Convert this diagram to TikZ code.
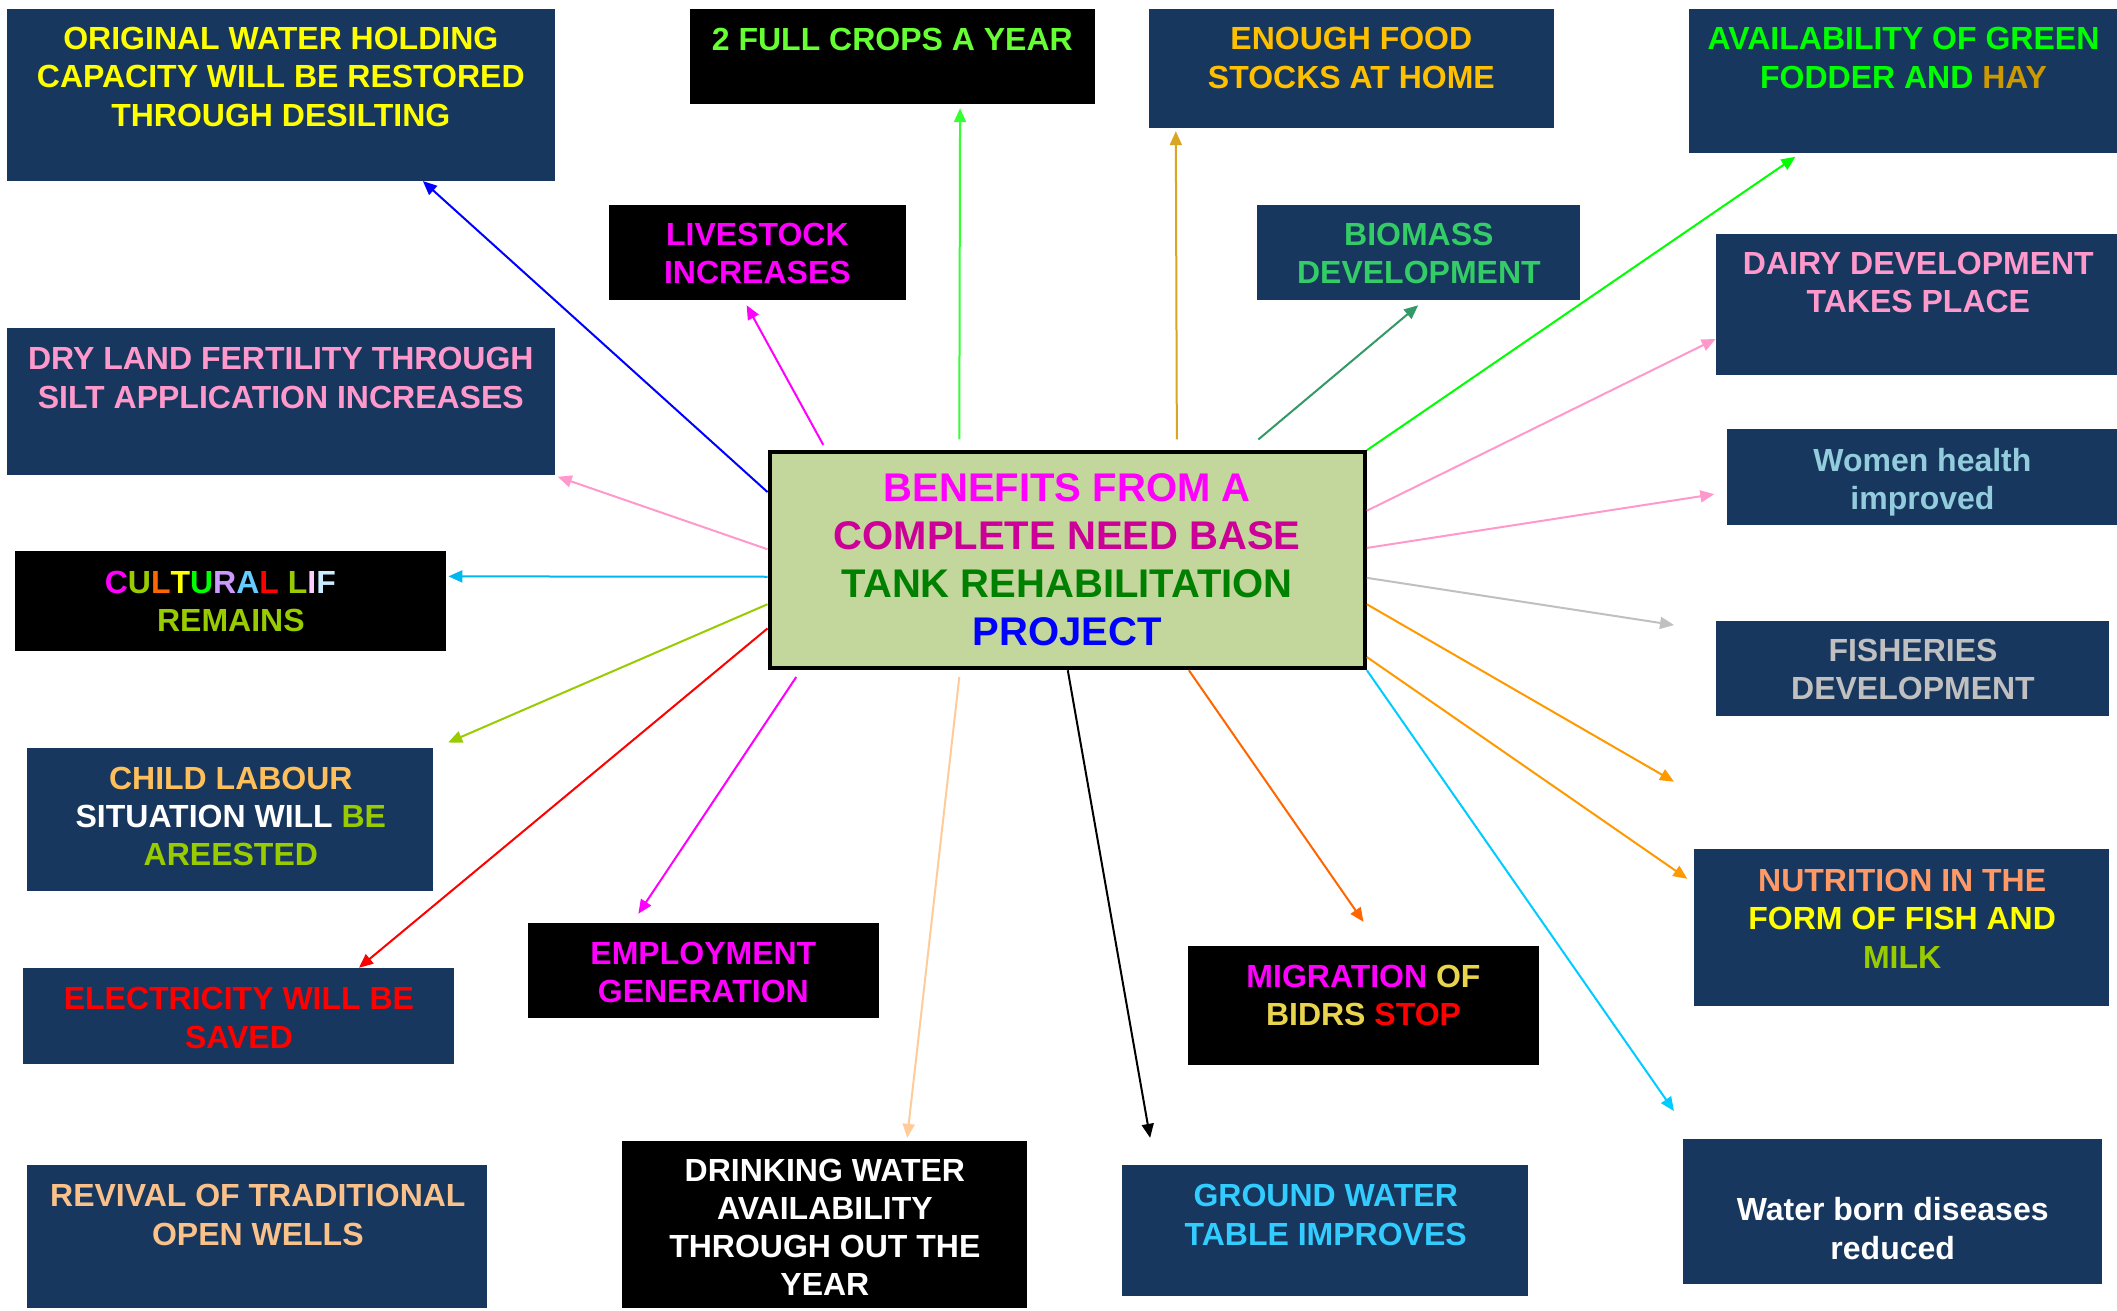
\documentclass[tikz,border=0pt]{standalone}
\usepackage{fontspec}
\setmainfont{Liberation Sans}
\usetikzlibrary{arrows.meta,calc,fit}
\definecolor{navy}{HTML}{17375E}
\definecolor{centfill}{HTML}{C3D69B}
\definecolor{mymag}{HTML}{FF00FF}
\definecolor{mygreen}{HTML}{00FF00}
\definecolor{myyellow}{HTML}{FFFF00}
\definecolor{myred}{HTML}{FF0000}
\definecolor{myblue}{HTML}{0000FF}
\definecolor{mywhite}{HTML}{FFFFFF}
\definecolor{myblack}{HTML}{000000}
\definecolor{cropgreen}{HTML}{66FF33}
\definecolor{foodgold}{HTML}{FFC000}
\definecolor{haygold}{HTML}{CC9900}
\definecolor{biogreen}{HTML}{33CC66}
\definecolor{pinkx}{HTML}{FF99CC}
\definecolor{womenblue}{HTML}{93CDDD}
\definecolor{silverx}{HTML}{C0C0C0}
\definecolor{childorange}{HTML}{FFC05C}
\definecolor{ygreen}{HTML}{99CC00}
\definecolor{salmonx}{HTML}{FF9966}
\definecolor{khakiy}{HTML}{E8D44D}
\definecolor{revorange}{HTML}{FAC28A}
\definecolor{groundblue}{HTML}{33CCFF}
\definecolor{darkmag}{HTML}{CC0099}
\definecolor{darkgreenx}{HTML}{008000}
\definecolor{lavx}{HTML}{CC99FF}
\definecolor{lblue}{HTML}{66CCFF}
\definecolor{orangex}{HTML}{FF6600}
\definecolor{pinklight}{HTML}{FFCCFF}
\definecolor{paleblue}{HTML}{CCECFF}
\definecolor{arrgreen}{HTML}{33FF33}
\definecolor{arrgold}{HTML}{DAA520}
\definecolor{arrteal}{HTML}{339966}
\definecolor{arrorange}{HTML}{FF9900}
\definecolor{arrcyan}{HTML}{00CCFF}
\definecolor{arrpeach}{HTML}{FFCC99}
\definecolor{arrsky}{HTML}{00B8F0}
\begin{document}
\begin{tikzpicture}[x=1.35pt,y=-1.35pt,
  navybox/.style={fill=navy, inner sep=0pt, draw=none},
  blackbox/.style={fill=myblack, inner sep=0pt, draw=none},
  txt/.style={font=\fontsize{32}{38.2}\selectfont\bfseries, align=center, inner sep=0pt},
  ctxt/.style={font=\fontsize{40}{48.2}\selectfont\bfseries, align=center, inner sep=0pt},
  arr/.style={line width=2pt, -{Triangle[length=14pt,width=12pt]}}]
\fill[mywhite] (0,0) rectangle (1568.15,971.1);
\useasboundingbox (0,0) rectangle (1568.15,971.1);

% boxes
\node[navybox, fit={(5,7)(411,134)}] (orig) {};
\node[txt, text=myyellow] (origt) at (208,57) {ORIGINAL WATER HOLDING\\CAPACITY WILL BE RESTORED\\THROUGH DESILTING};

\node[blackbox, fit={(511,7)(811,77)}] (crops) {};
\node[txt, text=cropgreen] (cropst) at (661,29) {2 FULL CROPS A YEAR};

\node[navybox, fit={(851,7)(1151,95)}] (food) {};
\node[txt, text=foodgold] (foodt) at (1001,43) {ENOUGH FOOD\\STOCKS AT HOME};

\node[navybox, fit={(1251,7)(1568.15,113)}] (avail) {};
\node[txt, text=mygreen] (availt) at (1410,43) {AVAILABILITY OF GREEN\\FODDER AND \textcolor{haygold}{HAY}};

\node[blackbox, fit={(451,152)(671,222)}] (live) {};
\node[txt, text=mymag] (livet) at (561,187.5) {LIVESTOCK\\INCREASES};

\node[navybox, fit={(931,152)(1170,222)}] (bio) {};
\node[txt, text=biogreen] (biot) at (1051,187.5) {BIOMASS\\DEVELOPMENT};

\node[navybox, fit={(1271,173)(1568.15,278)}] (dairy) {};
\node[txt, text=pinkx] (dairyt) at (1421,209) {DAIRY DEVELOPMENT\\TAKES PLACE};

\node[navybox, fit={(5,243)(411,352)}] (dry) {};
\node[txt, text=pinkx] (dryt) at (208,280) {DRY LAND FERTILITY THROUGH\\SILT APPLICATION INCREASES};

\node[navybox, fit={(1279,318)(1568.15,389)}] (women) {};
\node[txt, text=womenblue] (woment) at (1424,357) {Women health\\improved};

\node[blackbox, fit={(11,408)(330,482)}] (cult) {};
\node[txt, text=ygreen] (cultt) at (171,445.5) {\textcolor{mymag}{C}\textcolor{ygreen}{U}\textcolor{orangex}{L}\textcolor{myyellow}{T}\textcolor{mygreen}{U}\textcolor{lavx}{R}\textcolor{lblue}{A}\textcolor{myred}{L} \textcolor{ygreen}{L}\textcolor{pinklight}{I}\textcolor{paleblue}{F}\hspace*{21pt}\\REMAINS};

\node[navybox, fit={(1271,460)(1562,530)}] (fish) {};
\node[txt, text=silverx] (fisht) at (1417,496) {FISHERIES\\DEVELOPMENT};

\node[navybox, fit={(20,554)(321,660)}] (child) {};
\node[txt, text=mywhite] (childt) at (171,605) {\textcolor{childorange}{CHILD LABOUR}\\SITUATION WILL \textcolor{ygreen}{BE}\\\textcolor{ygreen}{AREESTED}};

\node[navybox, fit={(1255,629)(1562,745)}] (nutr) {};
\node[txt, text=myyellow] (nutrt) at (1409,680.5) {\textcolor{salmonx}{NUTRITION IN THE}\\FORM OF FISH AND\\\textcolor{ygreen}{MILK}};

\node[blackbox, fit={(391,684)(651,754)}] (empl) {};
\node[txt, text=mymag] (emplt) at (521,720.5) {EMPLOYMENT\\GENERATION};

\node[blackbox, fit={(880,701)(1140,789)}] (migr) {};
\node[txt, text=khakiy] (migrt) at (1010,737.5) {\textcolor{mymag}{MIGRATION} OF\\BIDRS \textcolor{myred}{STOP}};

\node[navybox, fit={(17,717)(336,788)}] (elec) {};
\node[txt, text=myred] (elect) at (177,754) {ELECTRICITY WILL BE\\SAVED};

\node[navybox, fit={(20,863)(361,969)}] (reviv) {};
\node[txt, text=revorange] (revivt) at (191,900) {REVIVAL OF TRADITIONAL\\OPEN WELLS};

\node[blackbox, fit={(461,845)(761,969)}] (drink) {};
\node[txt, text=mywhite] (drinkt) at (611,909) {DRINKING WATER\\AVAILABILITY\\THROUGH OUT THE\\YEAR};

\node[navybox, fit={(831,863)(1132,960)}] (ground) {};
\node[txt, text=groundblue] (groundt) at (982,900) {GROUND WATER\\TABLE IMPROVES};

\node[navybox, fit={(1247,844)(1557,951)}] (wborn) {};
\node[txt, text=mywhite] (wbornt) at (1402,910) {Water born diseases\\reduced};

% centre
\node[fill=centfill, draw=myblack, line width=4pt, inner sep=0pt, fit={(570,335)(1011,495)}] (c) {};
\node[ctxt] (ct) at (790.5,414.5) {\textcolor{mymag}{BENEFITS FROM A}\\\textcolor{darkmag}{COMPLETE NEED BASE}\\\textcolor{darkgreenx}{TANK REHABILITATION}\\\textcolor{myblue}{PROJECT}};

% free ends
\coordinate (efish) at (1240,463);
\coordinate (eorange) at (1240,579);
\coordinate (ewborn) at (1240,823);
\coordinate (echild) at (332,550);

% connectors
\draw[arr, myblue] ($(c.north west)!0.19!(c.south west)$) -- ($(orig.south west)!0.759!(orig.south east)$);
\draw[arr, mymag] ($(c.north west)!0.093!(c.north east)+(0,-4)$) -- ($(live.south west)!0.464!(live.south east)+(0,4)$);
\draw[arr, arrgreen] ($(c.north west)!0.32!(c.north east)+(0,-8)$) -- ($(crops.south west)!0.667!(crops.south east)+(0,3)$);
\draw[arr, arrgold] ($(c.north west)!0.683!(c.north east)+(0,-8)$) -- ($(food.south west)!0.067!(food.south east)+(0,2)$);
\draw[arr, arrteal] ($(c.north west)!0.819!(c.north east)+(0,-8)$) -- ($(bio.south)+(0,4)$);
\draw[arr, mygreen] (c.north east) -- ($(avail.south west)!0.249!(avail.south east)+(0,3)$);
\draw[arr, pinkx] ($(c.north east)!0.275!(c.south east)$) -- ($(dairy.north west)!0.743!(dairy.south west)$);
\draw[arr, pinkx] ($(c.north east)!0.444!(c.south east)$) -- ($(women.north west)!0.676!(women.south west)+(-9,0)$);
\draw[arr, silverx] ($(c.north east)!0.58!(c.south east)$) -- (efish);
\draw[arr, arrorange] ($(c.north east)!0.70!(c.south east)$) -- (eorange);
\draw[arr, arrorange] ($(c.north east)!0.94!(c.south east)$) -- ($(nutr.north west)!0.19!(nutr.south west)+(-5,0)$);
\draw[arr, arrcyan] (c.south east) -- (ewborn);
\draw[arr, orangex] ($(c.south west)!0.703!(c.south east)$) -- ($(migr.north)+(0,-18)$);
\draw[arr, myblack] ($(c.south west)!0.501!(c.south east)$) -- ($(ground.north west)!0.07!(ground.north east)+(0,-20)$);
\draw[arr, arrpeach] ($(c.south west)!0.32!(c.south east)+(0,5)$) -- ($(drink.north west)!0.703!(drink.north east)+(0,-2)$);
\draw[arr, mymag] ($(c.south west)!0.048!(c.south east)+(0,5)$) -- ($(empl.north west)!0.315!(empl.north east)+(0,-7)$);
\draw[arr, myred] ($(c.north west)!0.81!(c.south west)$) -- ($(elec.north west)!0.78!(elec.north east)$);
\draw[arr, ygreen] ($(c.north west)!0.70!(c.south west)$) -- (echild);
\draw[arr, arrsky] ($(c.north west)!0.575!(c.south west)$) -- ($(cult.north east)!0.257!(cult.south east)+(2,0)$);
\draw[arr, pinkx] ($(c.north west)!0.45!(c.south west)$) -- ($(dry.south east)+(2,1)$);
\end{tikzpicture}
\end{document}
